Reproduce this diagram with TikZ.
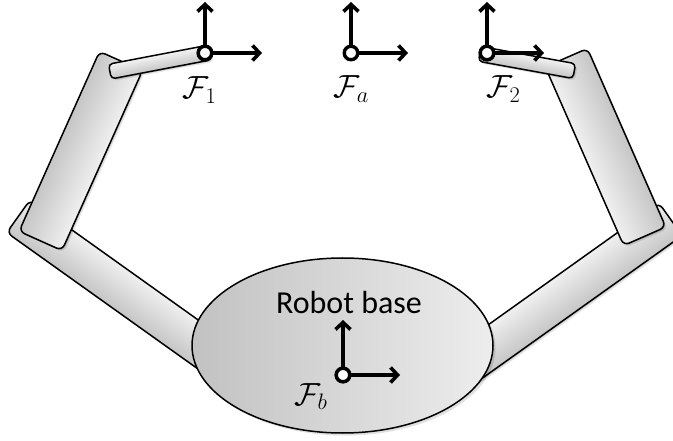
\RequirePackage{fix-cm}
\documentclass[tikz,border=0pt]{standalone}
\usepackage{fontspec}
\newfontfamily\basefont{Carlito}
\usetikzlibrary{arrows.meta,shapes.geometric}

% One rigid link: centre (#1,#2), angle #3, length #4, width #5,
% corner radius #6, shading colours #7 (upper side) and #8 (lower side)
\newcommand\armlink[8]{%
  \begin{scope}[transform canvas={shift={(#1,#2)},rotate=#3}]
    \fill[black,opacity=0.10,shift={(#3+45:3)},rounded corners=#6]
      (-#4/2,-#5/2) rectangle (#4/2,#5/2);
    \fill[black,opacity=0.12,shift={(#3+45:1.5)},rounded corners=#6]
      (-#4/2,-#5/2) rectangle (#4/2,#5/2);
    \draw[outline,top color=#7,bottom color=#8,rounded corners=#6]
      (-#4/2,-#5/2) rectangle (#4/2,#5/2);
  \end{scope}}

\begin{document}
\begin{tikzpicture}[x=1pt,y=-1pt,
  outline/.style={draw=black,line width=1.5pt},
  axisarrow/.style={line width=3.6pt,-{Straight Barb[length=7pt,width=15pt]}},
  origin/.style={circle,draw=black,fill=white,line width=3.4pt,
                 minimum size=13.5pt,inner sep=0pt},
  framelabel/.style={font=\fontsize{32}{36}\selectfont,inner sep=0pt,anchor=base}]
\useasboundingbox (0,0) rectangle (673,441);
\clip (0,0) rectangle (673,441);

% lower links (shoulder to elbow)
\armlink{128.3}{294.7}{-35.5}{270}{40}{6}{gray!12}{gray!45}
\armlink{560.7}{297.7}{35.5}{270}{40}{6}{gray!12}{gray!45}

% robot base
\fill[black,opacity=0.12] (345,348) ellipse [x radius=150.5,y radius=87.5];
\node[ellipse,outline,minimum width=301pt,minimum height=175pt,inner sep=0pt,
      left color=gray!48,right color=gray!14] (base) at (342.5,345.5) {};
\node[font=\basefont\fontsize{32}{38}\selectfont,inner sep=0pt,anchor=base]
  (basetext) at (349,313) {Robot base};

% upper links (elbow to wrist)
\armlink{80.75}{151}{65.9}{197}{47}{6}{gray!45}{gray!12}
\armlink{605.5}{147}{-66.3}{195}{46}{6}{gray!45}{gray!12}

% grippers
\armlink{160}{62}{10.8}{102}{15}{4}{gray!10}{gray!45}
\armlink{527}{62.5}{-10.3}{96}{15}{4}{gray!10}{gray!45}

% coordinate frames
\node[origin] (o1) at (205,53) {};
\coordinate (o1x) at (262,53);
\coordinate (o1y) at (205,2);
\draw[axisarrow] (o1) -- (o1x);
\draw[axisarrow] (o1) -- (o1y);
\node[origin] (o1c) at (205,53) {};
\node[framelabel] (l1) at (199.5,99) {$\mathcal{F}_1$};

\node[origin] (oa) at (351,53) {};
\coordinate (oax) at (408,53);
\coordinate (oay) at (351,2);
\draw[axisarrow] (oa) -- (oax);
\draw[axisarrow] (oa) -- (oay);
\node[framelabel] (la) at (351.5,98) {$\mathcal{F}_a$};

\node[origin] (o2) at (487,53) {};
\coordinate (o2x) at (544,53);
\coordinate (o2y) at (487,2);
\draw[axisarrow] (o2) -- (o2x);
\draw[axisarrow] (o2) -- (o2y);
\node[origin] (o2c) at (487,53) {};
\node[framelabel] (l2) at (503.5,98) {$\mathcal{F}_2$};

\node[origin] (ob) at (343,375) {};
\coordinate (obx) at (400,375);
\coordinate (oby) at (343,320);
\draw[axisarrow] (ob) -- (obx);
\draw[axisarrow] (ob) -- (oby);
\node[origin] (obc) at (343,375) {};
\node[framelabel] (lb) at (311,405) {$\mathcal{F}_b$};
\end{tikzpicture}
\end{document}
